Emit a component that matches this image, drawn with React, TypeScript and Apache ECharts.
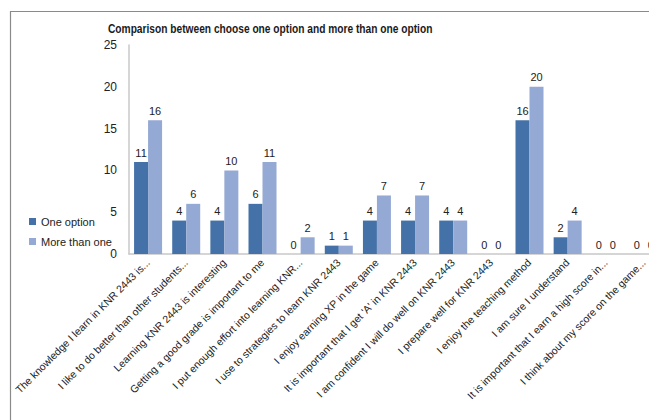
import React, { useEffect, useRef } from "react";
import * as echarts from "echarts";

const categories = [
  "The knowledge I learn in KNR 2443 is...",
  "I like to do better than other students...",
  "Learning KNR 2443 is interesting",
  "Getting a good grade is important to me",
  "I put enough effort into learning KNR...",
  "I use to strategies to learn KNR 2443",
  "I enjoy earning XP in the game",
  "It is important that I get 'A' in KNR 2443",
  "I am confident I will do well on KNR 2443",
  "I prepare well for KNR 2443",
  "I enjoy the teaching method",
  "I am sure I understand",
  "It is important that I earn a high score in...",
  "I think about my score on the game...",
];

const oneOption = [11, 4, 4, 6, 0, 1, 4, 4, 4, 0, 16, 2, 0, 0];
const moreThanOne = [16, 6, 10, 11, 2, 1, 7, 7, 4, 0, 20, 4, 0, 0];

const yTicks = { min: 0, max: 25, interval: 5 };

const chartTitle = "Comparison between choose one option and more than one option";

const FONT = "'Liberation Sans', Arial, sans-serif";

// The drawing surface runs past the right edge of the window, so the last
// category band is cut off the way a cropped sheet would be.
const CANVAS_W = 690;
const CANVAS_H = 420;

export default function App() {
  const ref = useRef<HTMLDivElement>(null);

  useEffect(() => {
    document.body.style.margin = "0";
    document.body.style.overflow = "hidden";
    const chart = echarts.init(ref.current!, null, { renderer: "svg" });
    chart.setOption({
      animation: false,
      backgroundColor: "#ffffff",
      textStyle: { fontFamily: FONT },
      graphic: [
        {
          type: "rect",
          shape: { x: 10.5, y: 11.5, width: 800, height: 600 },
          style: { fill: "none", stroke: "#8a8a8a", lineWidth: 1.2 },
          silent: true,
        },
        {
          type: "text",
          x: 108,
          y: 29,
          scaleX: 0.85,
          style: {
            text: chartTitle,
            fontSize: 12,
            fontWeight: "bold",
            fontFamily: FONT,
            fill: "#1a1a1a",
            verticalAlign: "middle",
            align: "left",
          },
          silent: true,
        },
      ],
      legend: {
        orient: "vertical",
        left: 24,
        top: 211,
        itemWidth: 7,
        itemHeight: 7,
        itemGap: 9,
        icon: "rect",
        textStyle: { fontSize: 11, color: "#222", fontFamily: FONT },
        data: ["One option", "More than one"],
      },
      grid: {
        left: 129,
        top: 45,
        width: 534,
        height: 209,
        containLabel: false,
        outerBoundsMode: "none",
      },
      xAxis: {
        type: "category",
        data: categories,
        axisTick: { show: false },
        axisLine: { lineStyle: { color: "#c8c8c8", width: 1.5 } },
        axisLabel: {
          rotate: 45,
          interval: 0,
          margin: 7,
          fontSize: 10.5,
          color: "#222",
          fontFamily: FONT,
        },
      },
      yAxis: {
        type: "value",
        min: yTicks.min,
        max: yTicks.max,
        interval: yTicks.interval,
        splitLine: { show: false },
        axisTick: { show: false },
        axisLine: { show: true, lineStyle: { color: "#c8c8c8", width: 1.5 } },
        axisLabel: { fontSize: 12, color: "#222", margin: 12, fontFamily: FONT },
      },
      series: [
        {
          name: "One option",
          type: "bar",
          data: oneOption,
          barWidth: 14,
          barGap: "0%",
          itemStyle: { color: "#4472a8" },
          label: { show: true, position: "top", fontSize: 11, color: "#222", distance: 4, fontFamily: FONT },
        },
        {
          name: "More than one",
          type: "bar",
          data: moreThanOne,
          barWidth: 14,
          itemStyle: { color: "#94a9d3" },
          label: { show: true, position: "top", fontSize: 11, color: "#222", distance: 4, fontFamily: FONT },
        },
      ],
    });
    return () => chart.dispose();
  }, []);

  return (
    <div
      ref={ref}
      style={{ position: "fixed", left: 0, top: 0, width: CANVAS_W, height: CANVAS_H }}
    />
  );
}
